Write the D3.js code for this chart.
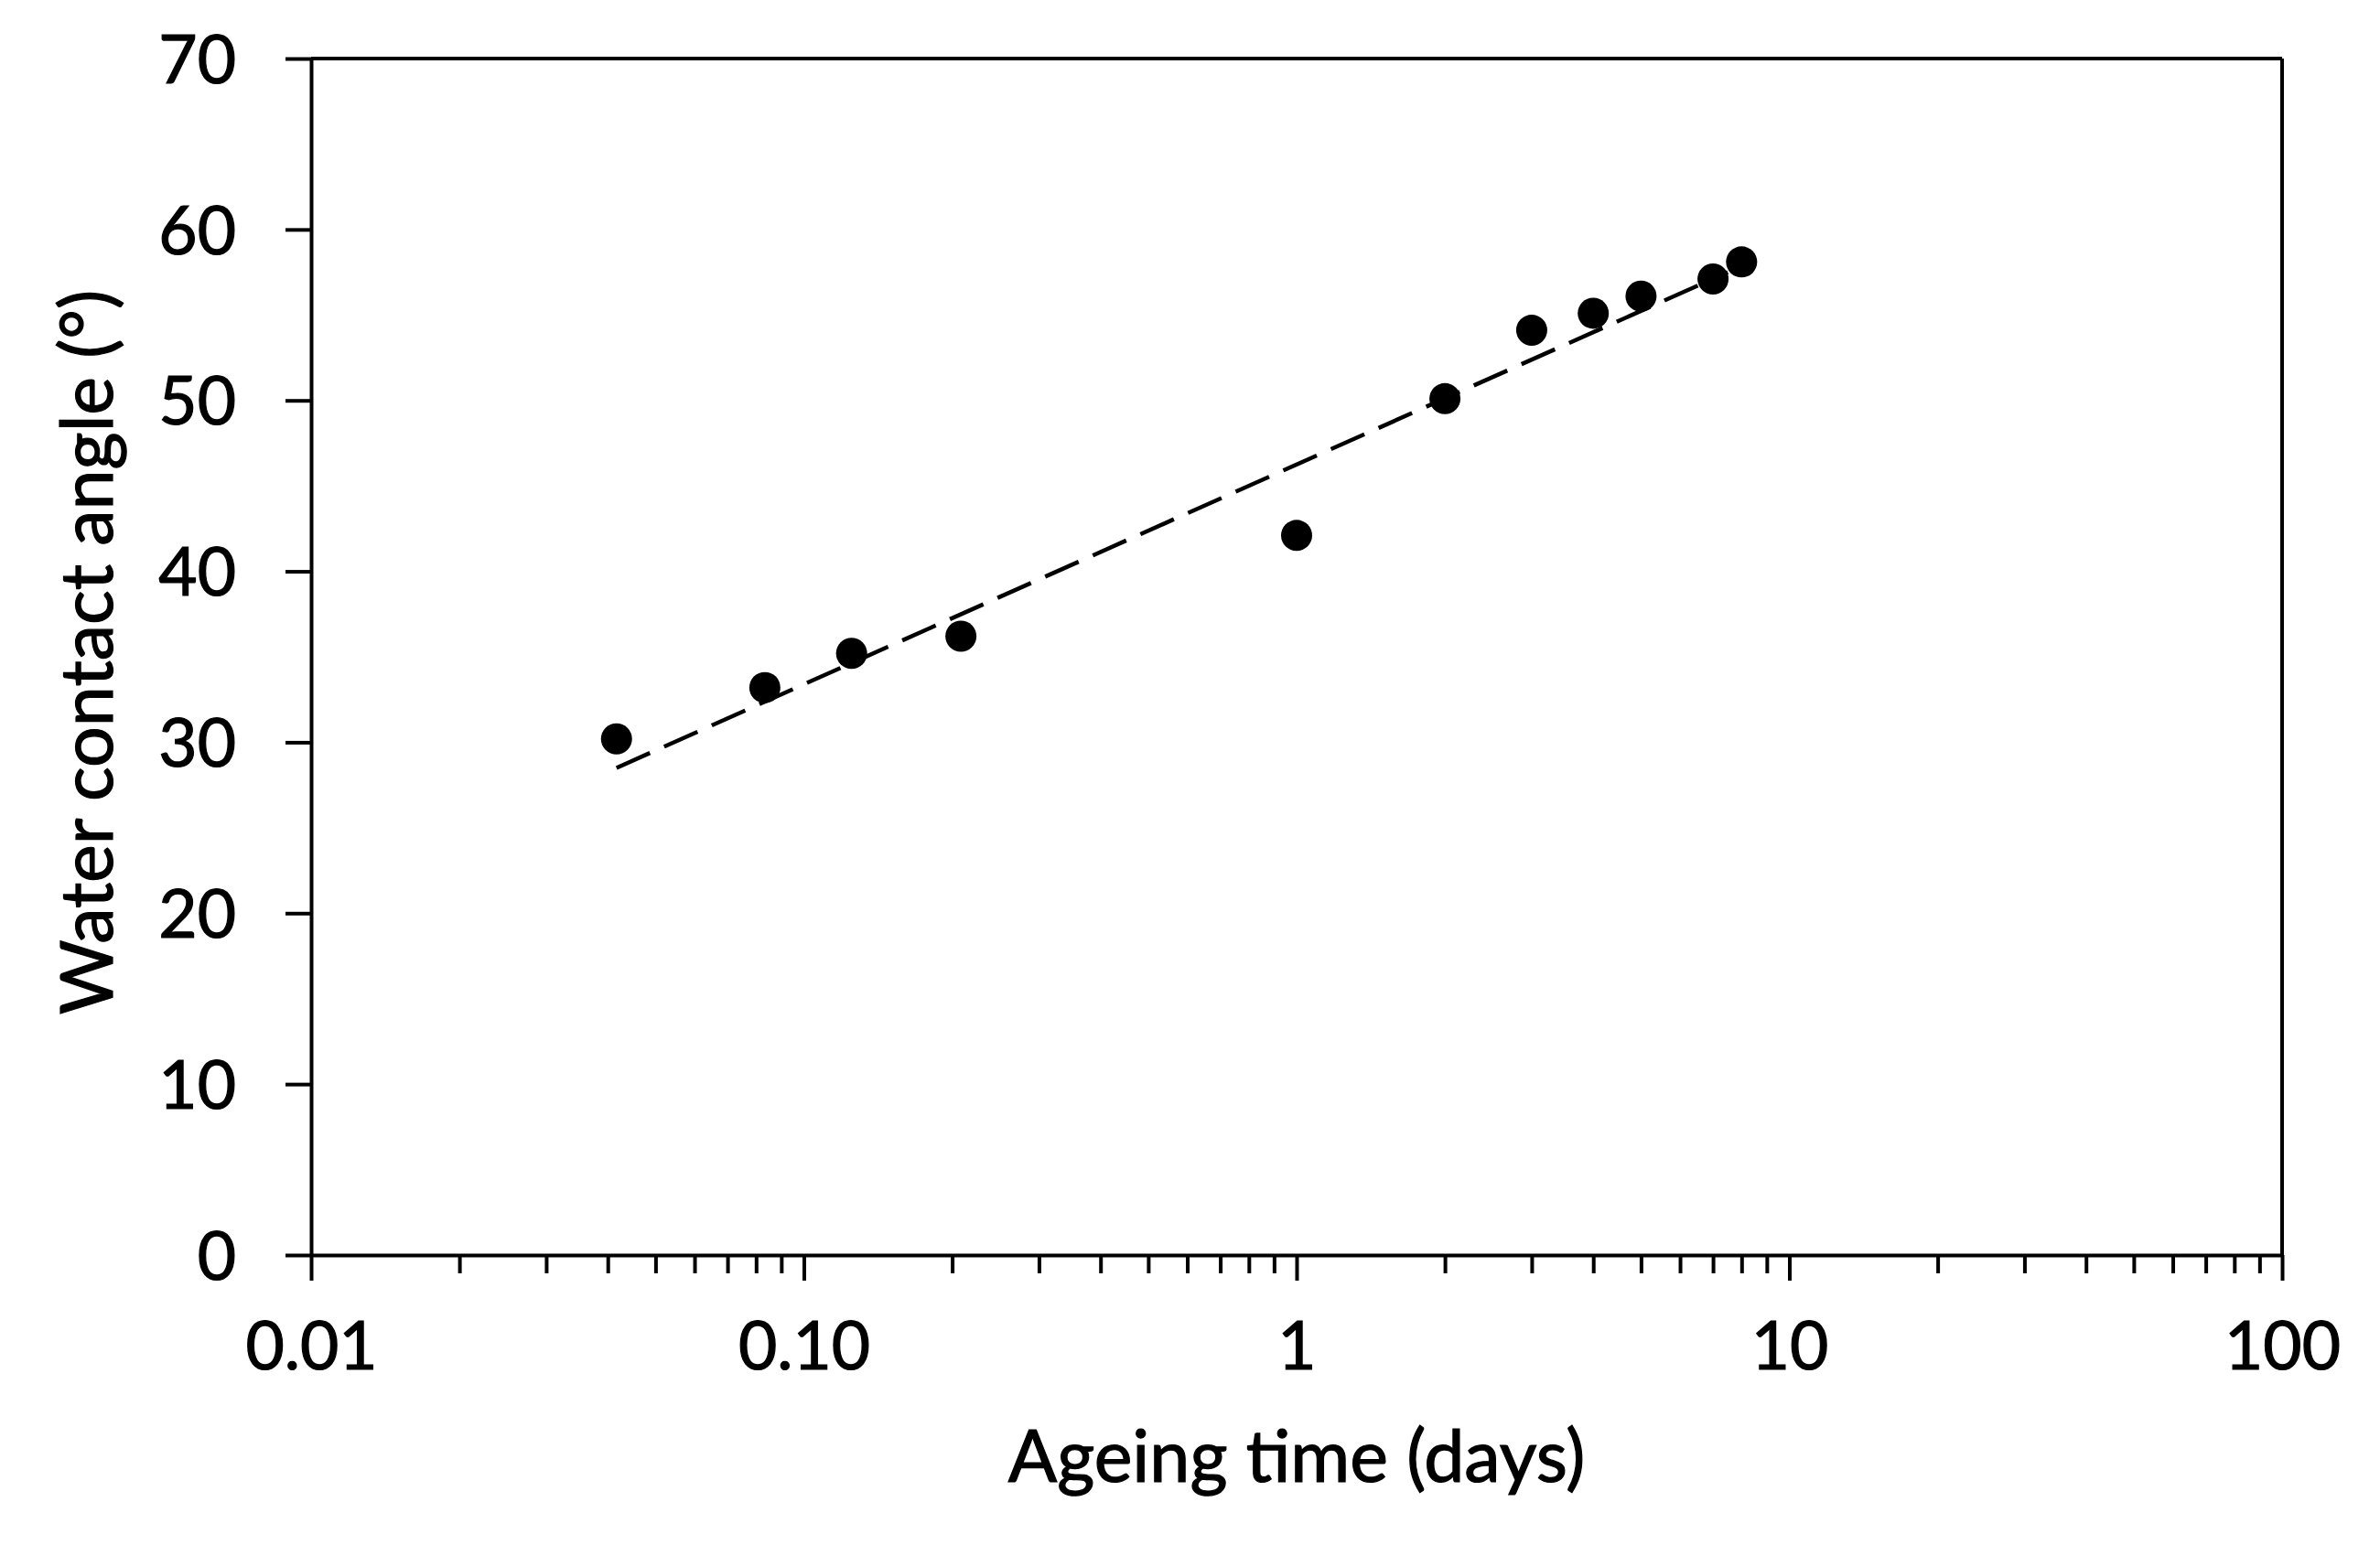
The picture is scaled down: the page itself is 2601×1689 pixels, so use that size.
<!DOCTYPE html>
<html>
<head>
<meta charset="utf-8">
<script src="https://cdn.jsdelivr.net/npm/d3@7"></script>
<style>
  html, body { margin: 0; padding: 0; background: #fff; }
  svg { display: block; }
  text { font-family: Lato, "Open Sans", sans-serif; fill: #000; stroke: #000; stroke-width: 1.2px; }
</style>
</head>
<body>
<svg id="chart" width="2601" height="1689"></svg>
<script>
// Ageing time in days (1 h, 2 h, 3 h, 5 h, 1 d ... 8 d)
const ageingDays = [1/24, 2/24, 3/24, 5/24, 1, 2, 3, 4, 5, 7, 8];
// Water contact angle (°)
const contactAngle = [30.2, 33.2, 35.2, 36.2, 42.1, 50.1, 54.1, 55.1, 56.1, 57.1, 58.1];
// Logarithmic trend line endpoints
const trendDays = [1/24, 7.5];
const trendAngle = [28.5, 57.5];

const xMajorTicks = [0.01, 0.1, 1, 10, 100];
const xMajorLabels = ["0.01", "0.10", "1", "10", "100"];
const xMinorTicks = [0.02, 0.03, 0.04, 0.05, 0.06, 0.07, 0.08, 0.09,
                     0.2, 0.3, 0.4, 0.5, 0.6, 0.7, 0.8, 0.9,
                     2, 3, 4, 5, 6, 7, 8, 9,
                     20, 30, 40, 50, 60, 70, 80, 90];
const yTicks = [0, 10, 20, 30, 40, 50, 60, 70];

const xTitle = "Ageing time (days)";
const yTitle = "Water contact angle (°)";

const svg = d3.select("#chart");
const pLeft = 340, pRight = 2494, pTop = 64, pBottom = 1372;
const fontSize = 73;
const titleSize = 79;
const axisW = 4;

const x = d3.scaleLog().domain([0.01, 100]).range([pLeft, pRight]);
const y = d3.scaleLinear().domain([0, 70]).range([pBottom, pTop]);

svg.append("rect").attr("width", 2601).attr("height", 1689).attr("fill", "#fff");

// Box: top and right edges
svg.append("line")
  .attr("x1", x(0.01)).attr("x2", x(100))
  .attr("y1", y(70)).attr("y2", y(70))
  .attr("stroke", "#000").attr("stroke-width", axisW);
svg.append("line")
  .attr("x1", x(100)).attr("x2", x(100))
  .attr("y1", y(70)).attr("y2", y(0))
  .attr("stroke", "#000").attr("stroke-width", axisW);

// Minor x ticks
const xMinor = svg.append("g").attr("transform", `translate(0,${pBottom})`)
  .call(d3.axisBottom(x).tickValues(xMinorTicks).tickSize(20).tickFormat(""));
xMinor.select(".domain").remove();
xMinor.selectAll("line").attr("stroke", "#000").attr("stroke-width", axisW);

// Major x axis
const xAxis = svg.append("g").attr("transform", `translate(0,${pBottom})`)
  .call(d3.axisBottom(x).tickValues(xMajorTicks).tickSize(28).tickSizeOuter(0)
        .tickFormat((d, i) => xMajorLabels[i]));
xAxis.select(".domain").attr("stroke", "#000").attr("stroke-width", axisW);
xAxis.selectAll("line").attr("stroke", "#000").attr("stroke-width", axisW);
xAxis.selectAll("text")
  .attr("y", 125).attr("dy", "0")
  .style("font-size", fontSize + "px")
  .style("font-family", "Lato, sans-serif")
  .attr("fill", "#000");

// Y axis
const yAxis = svg.append("g").attr("transform", `translate(${pLeft},0)`)
  .call(d3.axisLeft(y).tickValues(yTicks).tickSize(28).tickSizeOuter(0).tickPadding(54));
yAxis.select(".domain").attr("stroke", "#000").attr("stroke-width", axisW);
yAxis.selectAll("line").attr("stroke", "#000").attr("stroke-width", axisW);
yAxis.selectAll("text")
  .attr("dy", "0.36em")
  .style("font-size", fontSize + "px")
  .style("font-family", "Lato, sans-serif")
  .attr("fill", "#000");

// Trend line
const trend = trendDays.map((d, i) => [d, trendAngle[i]]);
svg.append("path")
  .datum(trend)
  .attr("d", d3.line().x(d => x(d[0])).y(d => y(d[1])))
  .attr("fill", "none")
  .attr("stroke", "#000")
  .attr("stroke-width", 4.5)
  .attr("stroke-dasharray", "40,17");

// Points
svg.append("g").selectAll("circle")
  .data(ageingDays.map((d, i) => [d, contactAngle[i]]))
  .join("circle")
  .attr("cx", d => x(d[0]))
  .attr("cy", d => y(d[1]))
  .attr("r", 17)
  .attr("fill", "#000");

// Axis titles
svg.append("text")
  .attr("x", (pLeft + pRight) / 2)
  .attr("y", 1620)
  .attr("text-anchor", "middle")
  .style("font-size", titleSize + "px")
  .text(xTitle);

svg.append("text")
  .attr("transform", `translate(123, ${(pTop + pBottom) / 2 - 5}) rotate(-90)`)
  .attr("text-anchor", "middle")
  .style("font-size", titleSize + "px")
  .text(yTitle);
</script>
</body>
</html>
